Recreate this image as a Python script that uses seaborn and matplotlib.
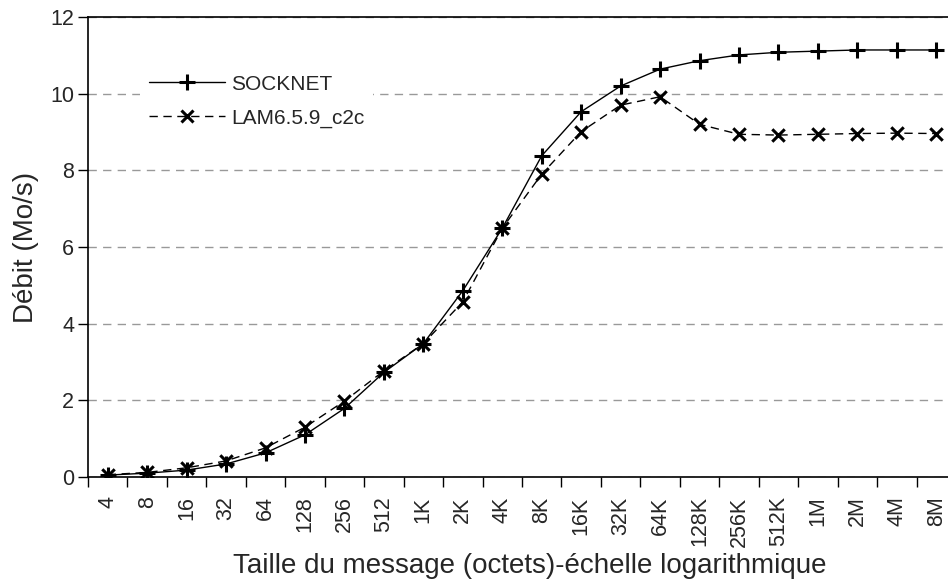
import numpy as np
import pandas as pd
import seaborn as sns
import matplotlib
matplotlib.use("Agg")
import matplotlib.pyplot as plt
from matplotlib.lines import Line2D

sizes = ["4", "8", "16", "32", "64", "128", "256", "512", "1K", "2K", "4K", "8K",
         "16K", "32K", "64K", "128K", "256K", "512K", "1M", "2M", "4M", "8M"]
socknet = [0.05, 0.10, 0.18, 0.34, 0.63, 1.10, 1.79, 2.73, 3.48, 4.86, 6.49, 8.38,
           9.53, 10.20, 10.64, 10.86, 11.01, 11.08, 11.11, 11.14, 11.14, 11.14]
lam = [0.06, 0.12, 0.24, 0.42, 0.76, 1.30, 1.98, 2.77, 3.48, 4.57, 6.49, 7.90,
       9.01, 9.70, 9.92, 9.20, 8.94, 8.92, 8.94, 8.96, 8.97, 8.96]
series_names = ["SOCKNET", "LAM6.5.9_c2c"]
yticks = [0, 2, 4, 6, 8, 10, 12]

sns.set_theme(style="white")
plt.rcParams["font.family"] = ["Liberation Sans", "DejaVu Sans"]

fig = plt.figure(figsize=(9.48, 5.85), dpi=100)
ax = fig.add_axes([88 / 948, (585 - 477) / 585, (956 - 88) / 948, (477 - 17) / 585])

df = pd.DataFrame({"x": np.arange(len(sizes)), "SOCKNET": socknet, "LAM": lam})

ax.yaxis.grid(True, color="#999999", linestyle=(0, (6, 4.5)), linewidth=1.0)
ax.set_axisbelow(True)

sns.lineplot(data=df, x="x", y="SOCKNET", ax=ax, color="black", linewidth=1.0,
             zorder=3)
sns.lineplot(data=df, x="x", y="LAM", ax=ax, color="black", linewidth=1.0,
             linestyle=(0, (6, 4)), zorder=3)
sns.scatterplot(data=df, x="x", y="SOCKNET", ax=ax, marker="+", s=130,
                linewidth=2.2, color="black", zorder=4)
sns.scatterplot(data=df, x="x", y="LAM", ax=ax, marker="x", s=80,
                linewidth=2.2, color="black", zorder=4)

ax.set_xlim(-0.5, len(sizes) - 0.5)
ax.set_ylim(0, 12)
ax.set_yticks(yticks)
ax.set_yticklabels([str(v) for v in yticks], fontsize=15.5)
ax.tick_params(axis="y", which="major", direction="out", length=7, width=1,
               color="black", left=True, pad=3)

ax.set_xticks(np.arange(len(sizes) + 1) - 0.5)
ax.set_xticklabels([])
ax.set_xticks(np.arange(len(sizes)), minor=True)
ax.set_xticklabels(sizes, minor=True, rotation=90, fontsize=15.5)
ax.tick_params(axis="x", which="major", direction="out", length=7, width=1,
               color="black", bottom=True)
ax.tick_params(axis="x", which="minor", length=0, pad=14)

for s in ["left", "top", "bottom"]:
    ax.spines[s].set_visible(True)
    ax.spines[s].set_color("black")
    ax.spines[s].set_linewidth(1.2)
ax.spines["right"].set_visible(False)

ax.set_xlabel("Taille du message (octets)-échelle logarithmique", fontsize=20)
ax.xaxis.set_label_coords((530 - 88) / 868, (477 - 553) / 460)
ax.set_ylabel("Débit (Mo/s)", fontsize=20, labelpad=8)

handles = [
    Line2D([0], [0], color="black", linewidth=1.0, marker="+", markersize=11,
           markeredgewidth=2.2),
    Line2D([0], [0], color="black", linewidth=1.0, linestyle=(0, (6, 4)), marker="x",
           markersize=8, markeredgewidth=2.2),
]
leg = ax.legend(handles, series_names, loc="upper left",
                bbox_to_anchor=((130 - 88) / 868, (477 - 56) / 460),
                frameon=True, fancybox=False, fontsize=15, handlelength=3.65,
                handletextpad=0.3, labelspacing=0.72, borderpad=0.4)
leg.get_frame().set_facecolor("white")
leg.get_frame().set_edgecolor("none")
leg.get_frame().set_alpha(1)

fig.savefig("out.png", dpi=100)
